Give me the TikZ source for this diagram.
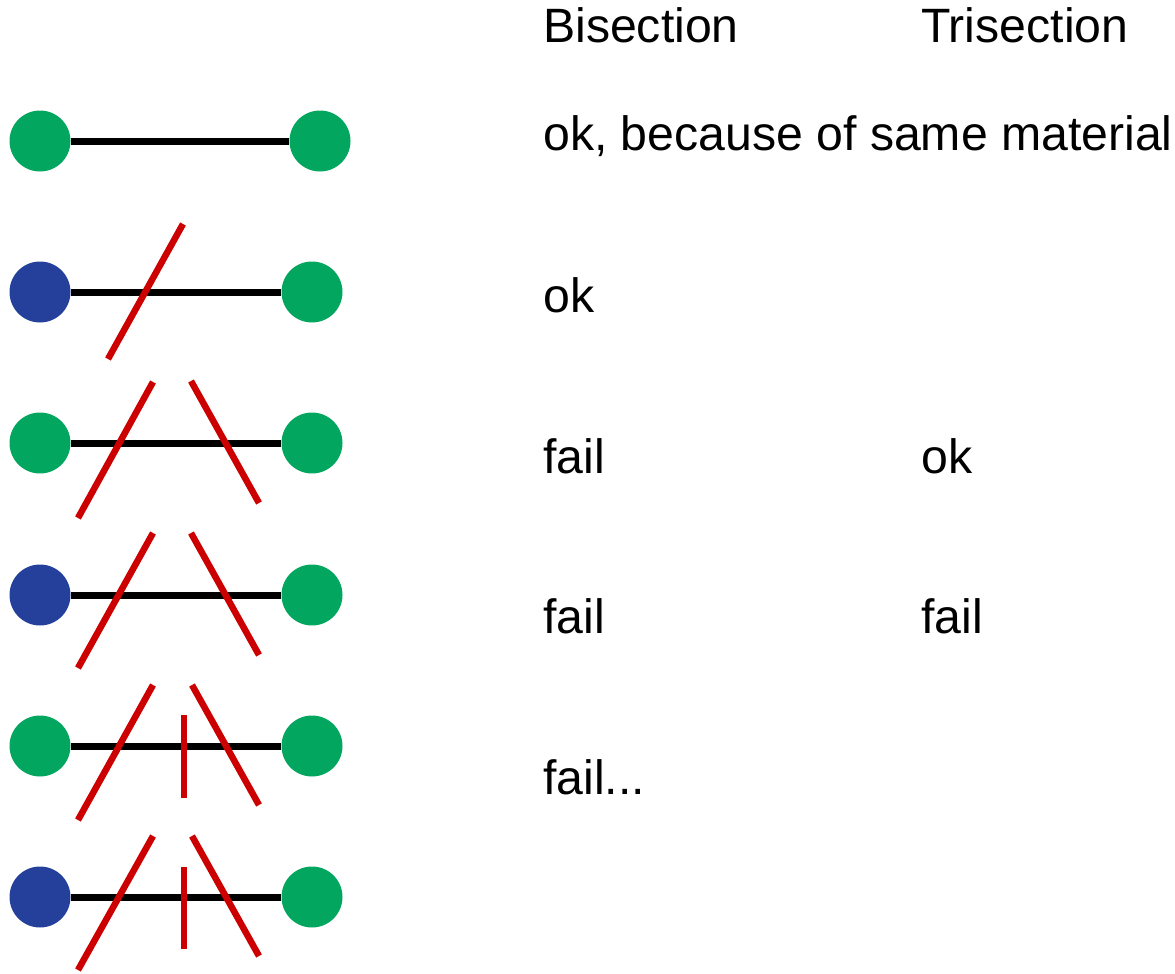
\documentclass[tikz,border=0pt]{standalone}
\usepackage{fontspec}
\setmainfont{Liberation Sans}
\definecolor{dgreen}{RGB}{2,166,94}
\definecolor{dblue}{RGB}{36,64,154}
\definecolor{cutred}{RGB}{204,0,0}
\begin{document}
\begin{tikzpicture}[x=1pt,y=-1pt,
  gdot/.style={circle,fill=dgreen,minimum size=61pt,inner sep=0pt},
  bdot/.style={circle,fill=dblue,minimum size=61pt,inner sep=0pt},
  bar/.style={line width=7pt,black},
  cut/.style={line width=6.5pt,cutred},
  lbl/.style={anchor=base west,inner sep=0pt,font=\fontsize{48.2}{58}\selectfont}]
\useasboundingbox (0,0) rectangle (1175,974);
% row 1
\node[gdot] (a1) at (40,141) {};
\node[gdot] (b1) at (320,141) {};
\draw[bar] (a1) -- (b1);
% row 2
\node[bdot] (a2) at (40,292) {};
\node[gdot] (b2) at (312,292) {};
\draw[bar] (a2) -- (b2);
\draw[cut] (183,224) -- (108,359);
% row 3
\node[gdot] (a3) at (40,443) {};
\node[gdot] (b3) at (312,443) {};
\draw[bar] (a3) -- (b3);
\draw[cut] (153,382) -- (78,518);
\draw[cut] (191,381) -- (259,503);
% row 4
\node[bdot] (a4) at (40,595) {};
\node[gdot] (b4) at (312,595) {};
\draw[bar] (a4) -- (b4);
\draw[cut] (153,533) -- (78,668);
\draw[cut] (191,533) -- (259,655);
% row 5
\node[gdot] (a5) at (40,746) {};
\node[gdot] (b5) at (312,746) {};
\draw[bar] (a5) -- (b5);
\draw[cut] (153,685) -- (78,820);
\draw[cut] (192,685) -- (259,805);
\draw[cut] (184,715) -- (184,798);
% row 6
\node[bdot] (a6) at (40,897) {};
\node[gdot] (b6) at (312,897) {};
\draw[bar] (a6) -- (b6);
\draw[cut] (153,836) -- (78,970);
\draw[cut] (192,836) -- (259,956);
\draw[cut] (184,867) -- (184,949);
% labels
\node[lbl] (h1) at (543,43) {Bisection};
\node[lbl] (h2) at (921,43) {Trisection};
\node[lbl] (t1) at (543,150) {ok, because of same material};
\node[lbl] (t2) at (543,312) {ok};
\node[lbl] (t3) at (543,473) {fail};
\node[lbl] (t3b) at (921,473) {ok};
\node[lbl] (t4) at (543,633) {fail};
\node[lbl] (t4b) at (921,633) {fail};
\node[lbl] (t5) at (543,794) {fail...};
\end{tikzpicture}
\end{document}
